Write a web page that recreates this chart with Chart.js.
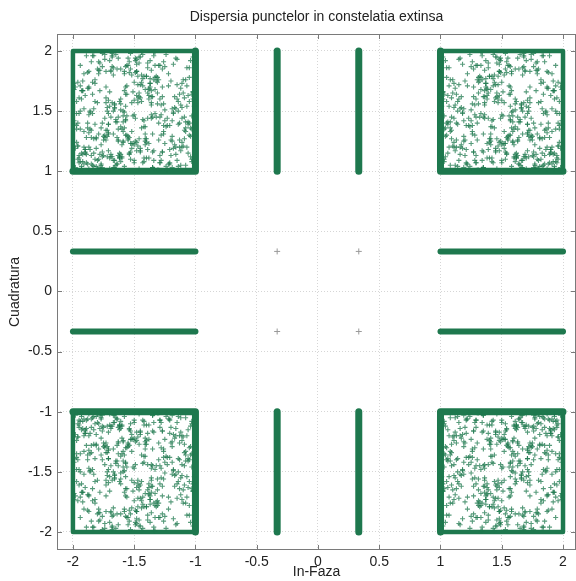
<!DOCTYPE html>
<html>
<head>
<meta charset="utf-8">
<script src="https://cdn.jsdelivr.net/npm/chart.js@4.4.0/dist/chart.umd.min.js"></script>
<style>
  body { margin: 0; background: #fff; }
</style>
</head>
<body>
<canvas id="constelatie" width="576" height="581"></canvas>
<script>
// valori
const chartTitle = 'Dispersia punctelor in constelatia extinsa';
const xAxisTitle = 'In-Faza';
const yAxisTitle = 'Cuadratura';
const xTicks = [-2, -1.5, -1, -0.5, 0, 0.5, 1, 1.5, 2];
const yTicks = [-2, -1.5, -1, -0.5, 0, 0.5, 1, 1.5, 2];
const xRange = [-2.13, 2.106];
const yRange = [-2.15, 2.141];

// cadranele (semnul I, semnul Q)
const quadrants = [[-1, 1], [1, 1], [-1, -1], [1, -1]];
const innerLevel = 1;
const outerLevel = 2;
const barLevel = 0.333;
const centerPoints = [
  { x: -0.333, y: 0.333 }, { x: 0.333, y: 0.333 },
  { x: -0.333, y: -0.333 }, { x: 0.333, y: -0.333 }
];

// norul din interiorul patratelor, in sutimi fata de coltul interior
const cloudDx = [
  3,12,45,78,22,5,61,33,9,88,17,52,2,70,28,41,8,93,14,57,
  6,36,81,19,48,11,66,25,4,73,31,55,15,90,39,7,62,21,84,44,
  10,29,58,1,76,35,13,67,47,20,95,26,8,53,38,72,16,43,3,85,
  24,60,11,49,5,80,32,18,69,42,9,56,27,91,14,37,64,2,75,30,
  7,51,22,86,40,12,65,4,34,59,19,79,46,6,28,71,15,54,97,23,
  13,44,3,68,26,83,10,50,36,18,62,8,77,31,57,21,1,89,41,16,
  35,6,74,20,48,11,94,29,63,5,40,17,82,25,53,9,70,33,14,60,
  2,45,27,87,12,56,38,7,72,23,49,15,66,4,92,30,43,19,78,10,
  52,18,34,3,81,26,61,13,47,69,8,37,24,96,16,58,5,42,73,28,
  11,64,20,39,6,85,31,54,15,76,2,48,33,67,22,9,90,44,17,57,
  4,27,71,14,50,36,7,63,23,82,41,12,55,30,1,79,46,19,65,8,
  32,59,16,93,25,5,68,38,11,52,21,87,3,45,29,74,13,61,35,18,
  47,83,29,64,91,38,72,55,19,86,43,97,61,34,78,50,25,89,67,41,
  93,58,36,75,48,82,27,69,53,95,31,77,44,88,62,21,84,57,39,71,
  66,24,87,51,73,40,96,59,30,81,45,68,92,37,76,54,98,28,63,85,
  39,79,56,94,32,67,49,83,71,26,90,58,35,74,47,99,60,42,87,52,
  81,46,68,23,89,57,36,77,94,63,41,86,52,29,70,91,48,66,34,95,
  58,92,42,73,61,96,50,34,85,47,78,65,97,56,40,83,71,27,90,64,
  74,37,99,48,84,29,66,91,55,72,38,94,60,80,46,62,33,88,53,77,
  45,87,63,31,76,54,93,42,69,98,57,26,82,49,95,68,36,75,61,89,
  97,53,79,44,65,88,35,72,59,92,46,74,39,85,67,51,97,43,80,56,
  62,30,86,70,96,41,80,57,90,34,73,99,64,48,87,59,76,93,38,69,
  88,71,50,95,37,63,84,46,78,58,94,40,70,91,33,82,55,67,99,45,
  36,76,92,59,83,49,71,98,43,66,87,54,79,35,61,96,68,50,84,73
];
const cloudDy = [
  8,55,19,3,71,40,14,88,27,6,62,33,95,11,47,22,76,2,58,30,
  15,67,4,42,83,24,9,51,36,70,1,29,60,18,44,86,12,38,5,74,
  21,7,49,90,16,31,64,3,79,26,13,56,41,10,68,34,20,97,46,6,
  37,12,73,25,58,2,45,19,84,8,61,30,16,52,4,77,28,66,13,40,
  54,23,6,35,11,69,43,92,17,50,3,81,27,63,9,39,72,14,48,1,
  26,80,10,57,33,4,65,22,47,89,15,36,5,74,42,18,59,7,31,94,
  3,41,28,13,63,20,50,7,35,78,24,53,10,87,16,45,2,68,39,11,
  60,17,85,32,5,46,23,71,12,38,82,9,55,29,67,1,43,25,14,76,
  19,49,2,64,27,91,8,40,57,14,33,70,4,21,52,36,86,11,61,30,
  44,6,75,18,39,13,56,28,93,3,66,24,48,9,81,34,15,58,22,70,
  12,62,31,50,7,84,20,45,1,73,37,17,88,26,54,10,65,29,41,5,
  79,25,14,67,42,30,96,11,53,23,6,69,35,16,60,44,20,85,3,48,
  72,15,88,41,6,63,29,94,52,18,77,35,60,9,84,47,23,96,31,68,
  4,81,57,26,93,39,70,12,85,48,65,22,99,36,58,7,74,43,90,17,
  53,97,20,66,34,79,10,46,88,28,61,95,14,73,40,82,3,55,25,91,
  86,31,64,8,75,50,92,27,59,38,16,83,45,97,21,68,35,79,2,57,
  19,62,98,44,28,87,55,6,71,94,25,49,80,13,66,33,89,52,76,11,
  67,8,42,83,56,21,74,99,34,60,90,5,38,71,27,96,48,16,63,85,
  30,92,73,17,64,45,3,81,26,50,69,88,22,57,95,11,78,40,98,36,
  95,47,26,78,12,91,60,37,83,19,54,31,76,44,7,87,62,29,51,14,
  58,23,84,36,97,69,16,53,41,75,2,93,65,28,80,46,24,71,9,88,
  11,76,50,92,40,27,85,64,18,96,57,39,6,83,70,33,98,15,60,45,
  82,39,9,61,73,13,48,90,67,4,35,79,54,20,99,58,27,86,42,72,
  44,87,67,24,52,94,32,70,7,56,83,15,91,62,37,74,12,59,96,26
];

const green = '#1e784e';
const greenSoft = 'rgba(30,120,78,0.75)';

function lineSet(points, width) {
  return {
    data: points,
    showLine: true,
    borderColor: green,
    borderWidth: width,
    borderCapStyle: 'round',
    borderJoinStyle: 'round',
    pointRadius: 0,
    fill: false
  };
}

const datasets = [];
quadrants.forEach(([sx, sy]) => {
  datasets.push({
    data: cloudDx.map((d, i) => ({ x: sx * (innerLevel + d / 100), y: sy * (innerLevel + cloudDy[i] / 100) })),
    pointStyle: 'cross',
    pointRadius: 2.5,
    pointBorderWidth: 1.1,
    borderColor: greenSoft,
    backgroundColor: greenSoft
  });
});
quadrants.forEach(([sx, sy]) => {
  datasets.push(lineSet([
    { x: sx * outerLevel, y: sy * innerLevel },
    { x: sx * outerLevel, y: sy * outerLevel },
    { x: sx * innerLevel, y: sy * outerLevel }
  ], 4.5));
  datasets.push(lineSet([
    { x: sx * innerLevel, y: sy * outerLevel },
    { x: sx * innerLevel, y: sy * innerLevel },
    { x: sx * outerLevel, y: sy * innerLevel }
  ], 7));
  datasets.push(lineSet([
    { x: sx * barLevel, y: sy * innerLevel },
    { x: sx * barLevel, y: sy * outerLevel }
  ], 7));
  datasets.push(lineSet([
    { x: sx * innerLevel, y: sy * barLevel },
    { x: sx * outerLevel, y: sy * barLevel }
  ], 6));
});
datasets.push({
  data: centerPoints,
  pointStyle: 'cross',
  pointRadius: 3,
  pointBorderWidth: 1,
  borderColor: '#9a9a9a'
});

// cutia axelor si gradatiile spre interior (stil MATLAB)
const boxPlugin = {
  id: 'boxPlugin',
  afterLayout(chart) {
    const t = chart.titleBlock;
    if (t) {
      t.left = chart.chartArea.left;
      t.right = chart.chartArea.right;
    }
  },
  afterDatasetsDraw(chart) {
    const { ctx, chartArea: a, scales } = chart;
    ctx.save();
    ctx.strokeStyle = '#7a7a7a';
    ctx.lineWidth = 1;
    ctx.beginPath();
    xTicks.forEach(v => {
      const px = Math.round(scales.x.getPixelForValue(v)) + 0.5;
      ctx.moveTo(px, a.bottom); ctx.lineTo(px, a.bottom - 5);
      ctx.moveTo(px, a.top); ctx.lineTo(px, a.top + 5);
    });
    yTicks.forEach(v => {
      const py = Math.round(scales.y.getPixelForValue(v)) + 0.5;
      ctx.moveTo(a.left, py); ctx.lineTo(a.left + 5, py);
      ctx.moveTo(a.right, py); ctx.lineTo(a.right - 5, py);
    });
    ctx.stroke();
    ctx.strokeRect(a.left + 0.5, a.top + 0.5, a.right - a.left - 1, a.bottom - a.top - 1);
    ctx.restore();
  }
};

const font = { family: '"Liberation Sans", Arial, sans-serif', size: 14, weight: 'normal' };

new Chart(document.getElementById('constelatie'), {
  type: 'scatter',
  data: { datasets: datasets },
  options: {
    responsive: false,
    animation: false,
    devicePixelRatio: 1,
    layout: { padding: 0, autoPadding: false },
    plugins: {
      legend: { display: false },
      tooltip: { enabled: false },
      title: {
        display: true,
        text: chartTitle,
        color: '#222',
        font: font,
        padding: { top: 9, bottom: 8.2 }
      }
    },
    scales: {
      x: {
        type: 'linear',
        min: xRange[0],
        max: xRange[1],
        afterBuildTicks: s => { s.ticks = xTicks.map(v => ({ value: v })); },
        afterFit: s => { s.height = 31; s.paddingLeft = 0; s.paddingRight = 0; },
        ticks: { color: '#222', font: font, padding: 4, maxRotation: 0, callback: v => String(v) },
        grid: { color: '#d6d6d6', drawTicks: false },
        border: { display: false, dash: [1, 2] },
        title: { display: true, text: xAxisTitle, color: '#222', font: font, padding: 0 }
      },
      y: {
        type: 'linear',
        min: yRange[0],
        max: yRange[1],
        afterBuildTicks: s => { s.ticks = yTicks.map(v => ({ value: v })); },
        afterFit: s => { s.width = 57; s.paddingTop = 0; s.paddingBottom = 0; },
        ticks: { color: '#222', font: font, padding: 5, callback: v => String(v) },
        grid: { color: '#d6d6d6', drawTicks: false },
        border: { display: false, dash: [1, 2] },
        title: { display: true, text: yAxisTitle, color: '#222', font: font, padding: { top: 7, bottom: 0 } }
      }
    }
  },
  plugins: [boxPlugin]
});
</script>
</body>
</html>
